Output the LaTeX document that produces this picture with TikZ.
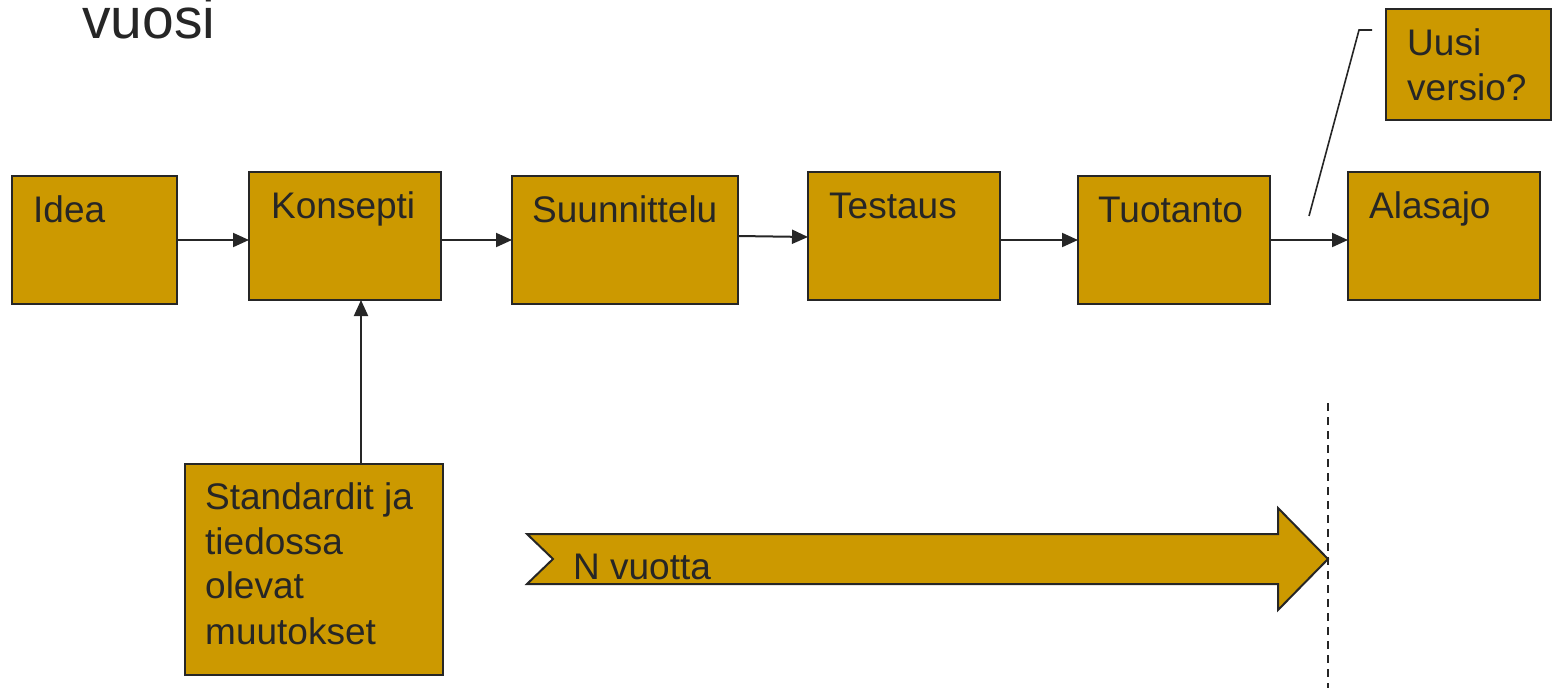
\documentclass[tikz,border=0pt]{standalone}
\usepackage{fontspec}
\setmainfont{Liberation Sans}
\usetikzlibrary{arrows.meta}
\definecolor{gold}{HTML}{CC9900}
\definecolor{ink}{HTML}{262626}
\begin{document}
\begin{tikzpicture}[x=1pt,y=-1pt,
  box/.style={draw=ink,fill=gold,line width=2pt,inner sep=0pt,outer sep=0pt},
  lbl/.style={anchor=base west,inner sep=0pt,text=ink,font=\fontsize{37}{45}\selectfont},
  conn/.style={draw=ink,line width=2pt,-{Triangle[length=16pt,width=14pt]}}]
\useasboundingbox (0,0) rectangle (1552,688);
% boxes
\node[box,minimum width=165pt,minimum height=128pt] (idea) at (94.5,240) {};
\node[box,minimum width=192pt,minimum height=128pt] (kons) at (345,236) {};
\node[box,minimum width=226pt,minimum height=128pt] (suun) at (625,240) {};
\node[box,minimum width=192pt,minimum height=128pt] (test) at (904,236) {};
\node[box,minimum width=192pt,minimum height=128pt] (tuot) at (1174,240) {};
\node[box,minimum width=192pt,minimum height=128pt] (alas) at (1444,236) {};
\node[box,minimum width=165pt,minimum height=111pt] (uusi) at (1468.5,64.5) {};
\node[box,minimum width=258pt,minimum height=211pt] (stan) at (314,569.5) {};
% labels
\node[lbl] (tidea) at (33,222) {Idea};
\node[lbl] (tkons) at (271,218) {Konsepti};
\node[lbl] (tsuun) at (532,222) {Suunnittelu};
\node[lbl] (ttest) at (829,218) {Testaus};
\node[lbl] (ttuot) at (1098,222) {Tuotanto};
\node[lbl] (talas) at (1369,218) {Alasajo};
\node[lbl] (tuusi) at (1407,55) {Uusi};
\node[lbl] (tvers) at (1407,100) {versio?};
\node[lbl] (ts1) at (205,509) {Standardit ja};
\node[lbl] (ts2) at (205,554) {tiedossa};
\node[lbl] (ts3) at (205,598) {olevat};
\node[lbl] (ts4) at (205,644) {muutokset};
\node[anchor=base west,inner sep=0pt,text=ink,font=\fontsize{57}{60}\selectfont] (vuosi) at (82,38) {vuosi};
% connectors
\draw[conn] (idea.east) -- (kons.west |- idea.east);
\draw[conn] (kons.east |- 0,240) -- (suun.west |- 0,240);
\draw[conn] (suun.east |- 0,236) -- (test.west |- 0,237);
\draw[conn] (test.east |- 0,240) -- (tuot.west |- 0,240);
\draw[conn] (tuot.east) -- (alas.west |- tuot.east);
\draw[conn] (stan.north -| 361,0) -- (kons.south -| 361,0);
% callout line
\coordinate (c1) at (1309,216);
\coordinate (c2) at (1359,30);
\coordinate (c3) at (1372,30);
\draw[ink,line width=1.6pt] (c1) -- (c2) -- (c3);
% big arrow
\draw[ink,fill=gold,line width=2pt,line join=miter]
  (527,534) -- (1278,534) -- (1278,508) -- (1328,559) -- (1278,610) -- (1278,584)
  -- (527,584) -- (553,559) -- cycle;
\node[anchor=base west,inner sep=0pt,text=ink,font=\fontsize{37}{45}\selectfont] (nv) at (573,579) {N vuotta};
% dashed line
\coordinate (d1) at (1328,403);
\coordinate (d2) at (1328,688);
\draw[ink,line width=1.5pt,dash pattern=on 8pt off 6pt] (d1) -- (d2);
\end{tikzpicture}
\end{document}
